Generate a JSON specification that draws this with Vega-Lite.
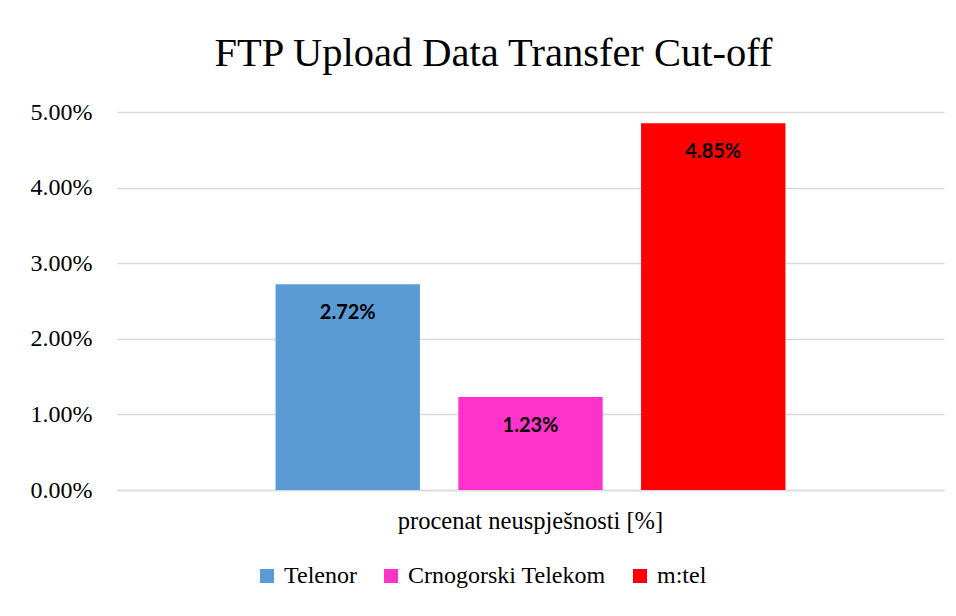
{
  "$schema": "https://vega.github.io/schema/vega-lite/v6.json",
  "autosize": {"type": "none"},
  "padding": {"left": 117, "top": 112, "right": 12, "bottom": 126},
  "width": 827,
  "height": 378,
  "background": "white",
  "title": {
    "text": "FTP Upload Data Transfer Cut-off",
    "font": "Liberation Serif",
    "fontSize": 40.5,
    "fontWeight": "normal",
    "color": "#000000",
    "anchor": "middle",
    "dx": -37,
    "offset": 26
  },
  "data": {
    "values": [
      {"cat": "procenat neuspješnosti [%]", "operator": "Telenor", "value": 0.0272},
      {"cat": "procenat neuspješnosti [%]", "operator": "Crnogorski Telekom", "value": 0.0123},
      {"cat": "procenat neuspješnosti [%]", "operator": "m:tel", "value": 0.0485}
    ]
  },
  "encoding": {
    "x": {
      "field": "cat",
      "type": "nominal",
      "scale": {"paddingInner": 0, "paddingOuter": 0.311},
      "axis": {
        "title": null,
        "labelAngle": 0,
        "labelFont": "Times New Roman",
        "labelFontSize": 24.5,
        "labelColor": "#000000",
        "labelPadding": 19,
        "labelLimit": 600,
        "ticks": false,
        "domain": true,
        "domainColor": "#D9D9D9",
        "domainWidth": 1.5
      }
    },
    "xOffset": {
      "field": "operator",
      "type": "nominal",
      "sort": ["Telenor", "Crnogorski Telekom", "m:tel"],
      "scale": {"paddingInner": 0.21, "paddingOuter": 0}
    },
    "y": {
      "field": "value",
      "type": "quantitative",
      "scale": {"domain": [0, 0.05], "nice": false},
      "axis": {
        "title": null,
        "format": ".2%",
        "values": [0, 0.01, 0.02, 0.03, 0.04, 0.05],
        "labelFont": "Times New Roman",
        "labelFontSize": 24,
        "labelColor": "#000000",
        "labelPadding": 25,
        "ticks": false,
        "domain": false,
        "grid": true,
        "gridColor": "#D9D9D9",
        "gridWidth": 1.5
      }
    }
  },
  "layer": [
    {
      "mark": {"type": "bar"},
      "encoding": {
        "color": {
          "field": "operator",
          "type": "nominal",
          "sort": ["Telenor", "Crnogorski Telekom", "m:tel"],
          "scale": {
            "domain": ["Telenor", "Crnogorski Telekom", "m:tel"],
            "range": ["#5B9BD5", "#FF33CC", "#FF0000"]
          },
          "legend": {
            "title": null,
            "orient": "none",
            "direction": "horizontal",
            "legendX": 138,
            "legendY": 452,
            "symbolType": "square",
            "symbolSize": 196,
            "symbolStrokeWidth": 0,
            "labelFont": "Times New Roman",
            "labelFontSize": 24,
            "labelColor": "#000000",
            "labelOffset": 5,
            "columnPadding": 22,
            "labelLimit": 400
          }
        }
      }
    },
    {
      "mark": {
        "type": "text",
        "baseline": "middle",
        "align": "center",
        "dy": 29,
        "font": "Lato",
        "fontWeight": "bold",
        "fontSize": 20,
        "color": "#000000"
      },
      "encoding": {
        "text": {"field": "value", "type": "quantitative", "format": ".2%"}
      }
    }
  ],
  "config": {
    "font": "Liberation Serif",
    "view": {"stroke": null}
  }
}
